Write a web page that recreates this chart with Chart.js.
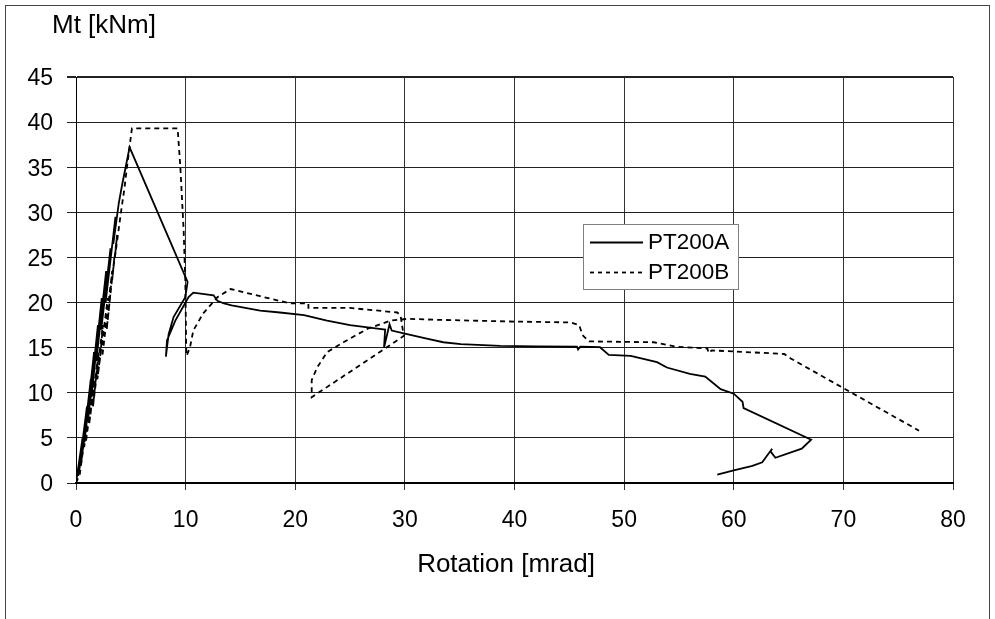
<!DOCTYPE html>
<html>
<head>
<meta charset="utf-8">
<script src="https://cdn.jsdelivr.net/npm/chart.js"></script>
<style>
  body { margin: 0; background: #fff; }
  #wrap { width: 995px; height: 619px; }
</style>
</head>
<body>
<div id="wrap"><canvas id="chart" width="995" height="619"></canvas></div>
<script>
// Axis ticks
const xTicks = [0, 10, 20, 30, 40, 50, 60, 70, 80];
const yTicks = [0, 5, 10, 15, 20, 25, 30, 35, 40, 45];

// PT200A (solid) - rotation [mrad] / moment [kNm]
// first part: load/unload cycles that make the black band up to the peak
const rotA = [0, 0.6, 0.45, 0.2, 1.0, 0.85, 0.45, 1.35, 1.15, 0.75, 1.65, 1.5, 1.1, 2.0, 1.85, 1.4,
  2.35, 2.2, 1.85, 2.75, 2.6, 2.3, 3.15, 3.0, 2.7, 3.6, 3.4, 3.9, 4.2, 4.89,
  10.18, 9.97, 8.9, 8.45, 8.2, 8.3, 9.06, 10.27, 10.7, 12.55, 12.9, 13.5, 14.2, 16.8, 18.6, 20.8,
  22.9, 25.0, 27.5, 28.2, 28.1, 28.6, 28.8, 30.2, 32.0, 33.5, 35.1, 38.7, 42.0, 45.7, 45.8, 46.0,
  47.8, 48.6, 50.6, 53.0, 53.9, 56.0, 57.4, 58.2, 58.8, 60.0, 60.8, 60.9, 67.06, 66.2, 63.8, 63.35,
  63.5, 63.2, 62.6, 61.7, 60.0, 58.5];
const momA = [0, 5, 2.5, 0.8, 8.5, 6, 2, 11.5, 8.5, 4.5, 14.5, 12, 7, 17.5, 15, 9.5,
  20.5, 18, 13.5, 23.5, 21, 17, 26, 23.5, 20, 29.5, 26.5, 31, 33, 37.2,
  22.3, 20.6, 18.4, 16.5, 14.0, 15.8, 18.0, 20.6, 21.1, 20.8, 20.2, 19.9, 19.7, 19.1, 18.9, 18.6,
  18.0, 17.5, 17.1, 17.0, 15.0, 17.6, 16.9, 16.5, 16.0, 15.6, 15.4, 15.2, 15.15, 15.1, 14.8, 15.1,
  15.05, 14.2, 14.1, 13.4, 12.8, 12.1, 11.8, 11.0, 10.4, 9.9, 9.0, 8.3, 4.8, 3.8, 2.8, 3.5,
  3.8, 3.3, 2.3, 1.9, 1.4, 0.94];

// PT200B (dashed)
const rotB = [0, 0.35, 0.9, 0.75, 1.3, 1.1, 0.9, 1.65, 1.45, 1.2, 2.05, 1.85, 1.55, 2.45, 2.25, 1.95,
  2.9, 2.7, 2.4, 3.3, 3.1, 2.8, 3.5, 3.3, 3.75, 3.55, 4.1, 4.4, 4.65, 5.1,
  9.27, 9.52, 9.82, 9.97, 10.06, 10.1, 10.4, 10.7, 11.6, 12.9, 14.1, 16.8, 19.55, 21.2, 21.2,
  25.0, 29.3, 29.6, 29.9, 21.5, 21.5, 22.0, 22.9, 24.4, 26.6, 28.7, 30.3, 32.6, 39.6, 45.1, 45.9,
  46.2, 46.8, 52.7, 54.8, 57.6, 57.7, 58.0, 64.6, 65.2, 76.9];
const momB = [0, 1, 6, 4, 9, 6.5, 4.5, 11.5, 9, 6.5, 14.5, 12, 8.5, 17.5, 14.5, 11.5,
  20.5, 17.5, 14, 23.5, 20.5, 17, 25, 22.5, 27.5, 25, 30, 32.5, 35, 39.3,
  39.3, 35.0, 28.0, 22.4, 14.7, 14.1, 15.05, 16.9, 18.8, 20.6, 21.5, 20.7, 19.9, 19.9, 19.4,
  19.4, 18.9, 18.6, 16.3, 9.5, 11.4, 12.8, 14.5, 15.6, 17.1, 18.0, 18.2, 18.1, 17.9, 17.8, 17.5,
  16.4, 15.7, 15.6, 15.1, 14.9, 14.4, 14.7, 14.3, 13.8, 5.8];

function toPoints(xs, ys) {
  return xs.map((x, i) => ({ x: x, y: ys[i] }));
}

const FONT = "'Liberation Sans', Arial, sans-serif";

// titles, frame and legend drawn on the canvas
const decorPlugin = {
  id: 'decor',
  afterDraw(chart) {
    const c = chart.ctx;
    c.save();
    c.strokeStyle = '#444';
    c.lineWidth = 1;
    c.strokeRect(5.5, 5.5, 984, 700);

    c.fillStyle = '#000';
    c.font = '26px ' + FONT;
    c.textBaseline = 'middle';
    c.textAlign = 'left';
    c.fillText('Mt [kNm]', 52, 26);
    c.textAlign = 'center';
    c.fillText('Rotation [mrad]', 506, 565);

    // legend
    c.fillStyle = '#fff';
    c.fillRect(583, 224, 155, 65);
    c.strokeStyle = '#808080';
    c.lineWidth = 1;
    c.strokeRect(583.5, 224.5, 155, 65);
    c.strokeStyle = '#000';
    c.lineWidth = 1.8;
    c.beginPath();
    c.moveTo(590, 242.5);
    c.lineTo(643, 242.5);
    c.stroke();
    c.setLineDash([4, 4]);
    c.beginPath();
    c.moveTo(590, 272.5);
    c.lineTo(643, 272.5);
    c.stroke();
    c.setLineDash([]);
    c.fillStyle = '#000';
    c.font = '22.5px ' + FONT;
    c.textAlign = 'left';
    c.fillText('PT200A', 648, 243);
    c.fillText('PT200B', 648, 273);
    c.restore();
  }
};

new Chart(document.getElementById('chart'), {
  type: 'scatter',
  data: {
    datasets: [
      {
        label: 'PT200A',
        data: toPoints(rotA, momA),
        showLine: true,
        borderColor: '#000',
        borderWidth: 1.8,
        pointRadius: 0,
        tension: 0,
      },
      {
        label: 'PT200B',
        data: toPoints(rotB, momB),
        showLine: true,
        borderColor: '#000',
        borderWidth: 1.8,
        borderDash: [5, 4],
        pointRadius: 0,
        tension: 0,
      },
    ],
  },
  options: {
    responsive: false,
    animation: false,
    devicePixelRatio: 1,
    layout: { padding: { left: 0, top: 77, right: 42, bottom: 0 } },
    plugins: {
      legend: { display: false },
      tooltip: { enabled: false },
    },
    scales: {
      x: {
        type: 'linear',
        min: 0,
        max: 80,
        afterFit: (s) => { s.height = 136; },
        afterBuildTicks: (s) => { s.ticks = xTicks.map(v => ({ value: v })); },
        ticks: { color: '#000', font: { size: 23, family: FONT }, padding: 17, maxRotation: 0 },
        grid: { color: '#333', lineWidth: 1, tickLength: 7 },
        border: { color: '#000', width: 2 },
      },
      y: {
        min: 0,
        max: 45,
        afterFit: (s) => { s.width = 76; },
        afterBuildTicks: (s) => { s.ticks = yTicks.map(v => ({ value: v })); },
        ticks: { color: '#000', font: { size: 23, family: FONT }, padding: 14, labelOffset: 2 },
        grid: {
          color: '#222',
          lineWidth: (ctx) => (ctx.tick && ctx.tick.value === 45 ? 2 : 1),
          tickLength: 9,
        },
        border: { color: '#000', width: 1 },
      },
    },
  },
  plugins: [decorPlugin],
});
</script>
</body>
</html>
